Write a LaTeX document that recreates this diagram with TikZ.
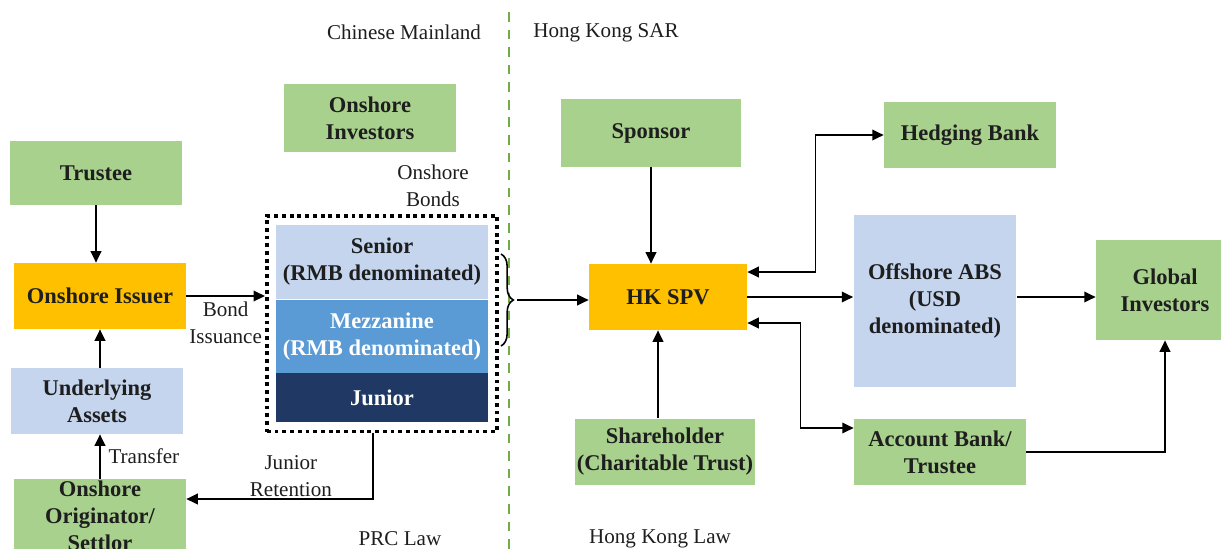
\documentclass[tikz,border=0pt]{standalone}
\usepackage{fontspec}
\setmainfont{Liberation Serif}
\usepackage{xcolor}
\usetikzlibrary{arrows.meta,decorations.pathreplacing,positioning,fit,calc}

\definecolor{boxgreen}{HTML}{A9D18E}
\definecolor{spvorange}{HTML}{FFC000}
\definecolor{paleblue}{HTML}{C5D5EE}
\definecolor{midblue}{HTML}{5B9BD5}
\definecolor{darkblue}{HTML}{1F3864}
\definecolor{bordergreen}{HTML}{70AD47}
\definecolor{inkdark}{HTML}{1E1E1E}

\begin{document}
\begin{tikzpicture}[x=0.02cm,y=-0.02cm,
    >={Triangle[length=6.5pt,width=6pt]},
    font=\fontsize{12}{15.3}\selectfont, text=inkdark,
    party/.style={fill=boxgreen, font=\fontsize{12.8}{15.3}\selectfont\bfseries,
                  align=center, inner sep=0pt},
    vehicle/.style={party, fill=spvorange},
    asset/.style={party, fill=paleblue},
    tranche/.style={party, minimum width=4.24cm},
    flow/.style={line width=1.1pt, draw=black},
    caption/.style={align=center, inner sep=1pt}]
  \useasboundingbox (0,0) rectangle (1221,548);

  % border between the two jurisdictions
  \coordinate (bordertop) at (509,12);
  \coordinate (borderbot) at (509,560);
  \draw[bordergreen, line width=1.5pt, dash pattern=on 5.5pt off 4.5pt] (bordertop) -- (borderbot);
  \node (mainland) at (404,32) {Chinese Mainland};
  \node (hksar) at (606,33) {Hong Kong SAR};
  \node (prclaw) at (400,539) {PRC Law};
  \node (hklaw) at (660,539) {Hong Kong Law};

  % onshore side
  \node [party, minimum width=3.44cm, minimum height=1.28cm] (trustee) at (96,173) {Trustee};
  \node [vehicle, minimum width=3.44cm, minimum height=1.32cm] (issuer) at (100,296) {Onshore Issuer};
  \node [asset, minimum width=3.44cm, minimum height=1.32cm] (underlying) at (97,401) {Underlying\\Assets};
  \node [party, minimum width=3.44cm, minimum height=1.48cm] (originator) at (100,516) {Onshore\\Originator/\\Settlor};
  \node [party, minimum width=3.44cm, minimum height=1.36cm] (investors) at (370,118) {Onshore\\Investors};

  % tranches of the onshore bonds
  \node [tranche, fill=paleblue, minimum height=1.48cm] (senior) at (382,262) {Senior\\(RMB denominated)};
  \node [tranche, fill=midblue, text=white, minimum height=1.46cm, below=0pt of senior] (mezz) {Mezzanine\\(RMB denominated)};
  \node [tranche, fill=darkblue, text=white, minimum height=0.98cm, below=0pt of mezz] (junior) {Junior};
  \node [draw=black, line width=2.2pt, dash pattern=on 2.2pt off 2.2pt, inner sep=5pt,
         fit=(senior)(junior)] (bonds) {};
  \node [caption] (bondslabel) at (433,186) {Onshore\\Bonds};

  \draw [line width=0.9pt, decorate, decoration={brace, amplitude=7pt}] (501,254) -- (501,346);
  \coordinate (bracetip) at (517,300);

  % offshore side
  \node [party, minimum width=3.6cm, minimum height=1.36cm] (sponsor) at (651,133) {Sponsor};
  \node [vehicle, minimum width=3.16cm, minimum height=1.32cm] (spv) at (668,297) {HK SPV};
  \node [party, minimum width=3.6cm, minimum height=1.34cm] (shareholder) at (665,452) {Shareholder\\(Charitable Trust)};
  \node [party, minimum width=3.44cm, minimum height=1.34cm] (hedging) at (970,135) {Hedging Bank};
  \node [asset, minimum width=3.26cm, minimum height=3.44cm] (abs) at (935,301) {Offshore ABS\\(USD\\denominated)};
  \node [party, minimum width=3.44cm, minimum height=1.34cm] (account) at (940,452) {Account Bank/\\Trustee};
  \node [party, minimum width=2.76cm, minimum height=2cm] (global) at (1165,290) {Global\\Investors};

  % flows onshore
  \draw [flow, ->] (trustee) -- (trustee |- issuer.north);
  \draw [flow, ->] (issuer |- underlying.north) -- (issuer.south);
  \draw [flow, ->] (originator.north) -- (originator.north |- underlying.south)
        node [midway, right, xshift=1pt] {Transfer};
  \draw [flow, ->] (issuer.east) -- (issuer.east -| bonds.west)
        node [midway, below, caption, yshift=-2pt] {Bond\\Issuance};
  \draw [flow, ->] ([xshift=-0.18cm]bonds.south) |- ([yshift=0.34cm]originator.east)
        node [pos=0.72, above, caption] {Junior\\Retention};

  % flows offshore
  \draw [flow, ->] (bracetip) -- (bracetip -| spv.west);
  \draw [flow, ->] (sponsor) -- (sponsor |- spv.north);
  \draw [flow, ->] ([xshift=-0.14cm]shareholder.north) -- ([xshift=-0.14cm]shareholder.north |- spv.south);
  \draw [flow, ->] (spv.east) -- (spv.east -| abs.west);
  \draw [flow, <->] ([yshift=0.5cm]spv.east) -| ($(spv.east)!.5!(hedging.west)$) |- (hedging.west);
  \draw [flow, <->] ([yshift=-0.52cm]spv.east) -| ($(spv.east)!.5!(account.west)$) |- ([yshift=0.48cm]account.west);
  \draw [flow, ->] ([yshift=0.08cm]abs.east) -- ([yshift=0.08cm]abs.east -| global.west);
  \draw [flow, ->] (account.east) -| (global.south);
\end{tikzpicture}
\end{document}
